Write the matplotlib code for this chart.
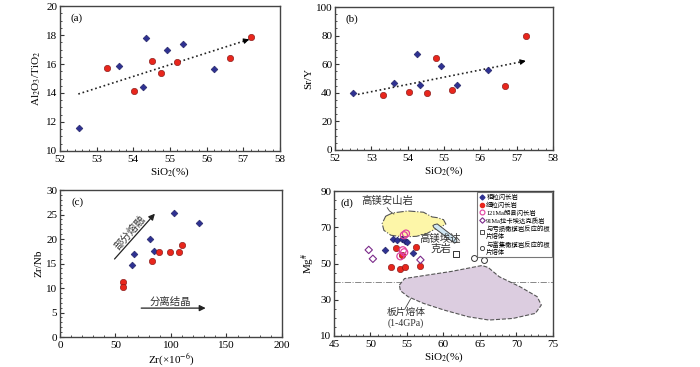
import matplotlib
matplotlib.use("Agg")
import matplotlib.pyplot as plt
from matplotlib.ticker import MultipleLocator, FixedLocator
from matplotlib.patches import Polygon
from matplotlib.lines import Line2D

plt.rcParams['font.family'] = ['Liberation Serif', 'Noto Sans CJK SC']
plt.rcParams['mathtext.fontset'] = 'stix'
plt.rcParams['font.size'] = 8

BLUE = '#2e3192'
RED = '#e8261c'
MAG = '#e040a0'
PUR = '#7b2a8a'

# (a) Al2O3/TiO2 vs SiO2
a_blue_x = [52.52, 53.62, 54.34, 54.27, 54.91, 55.35, 56.19]
a_blue_y = [11.61, 15.84, 17.79, 14.39, 16.97, 17.40, 15.66]
a_red_x = [53.29, 54.03, 54.50, 54.75, 55.18, 56.64, 57.21]
a_red_y = [15.70, 14.16, 16.23, 15.38, 16.16, 16.39, 17.89]
a_arrow = [(52.5, 13.93), (57.16, 17.70)]

# (b) Sr/Y vs SiO2
b_blue_x = [52.50, 53.63, 54.27, 54.35, 54.93, 55.37, 56.22]
b_blue_y = [40.0, 46.7, 67.1, 45.3, 58.6, 45.3, 56.1]
b_red_x = [53.31, 54.04, 54.52, 54.78, 55.21, 56.68, 57.26]
b_red_y = [38.4, 40.5, 40.0, 64.4, 41.8, 44.6, 80.0]
b_arrow = [(52.63, 38.9), (57.25, 62.3)]

# (c) Zr/Nb vs Zr
c_blue_x = [65.0, 67.1, 80.9, 84.8, 102.9, 125.7]
c_blue_y = [14.8, 17.0, 20.1, 17.5, 25.4, 23.2]
c_red_x = [56.8, 57.1, 83.3, 89.6, 98.9, 107.7, 109.8]
c_red_y = [11.2, 10.2, 15.5, 17.4, 17.3, 17.3, 18.8]

# (d) Mg# vs SiO2
d_blue_x = [53.1, 53.7, 54.3, 54.7, 55.0, 52.0, 55.8]
d_blue_y = [63.4, 63.0, 63.6, 62.5, 61.6, 57.5, 55.9]
d_red_x = [53.5, 56.2, 54.3, 52.8, 54.0, 54.7, 56.8]
d_red_y = [58.3, 59.2, 54.6, 47.8, 46.9, 47.8, 48.7]
d_mag_x = [54.86, 54.58, 54.43, 54.62, 54.10]
d_mag_y = [66.5, 65.6, 57.3, 56.2, 54.0]
d_pur_x = [49.76, 50.33, 56.84]
d_pur_y = [57.5, 52.6, 52.0]
d_sq_x = [61.75]
d_sq_y = [55.1]
d_oc_x = [64.2, 65.5]
d_oc_y = [53.3, 52.0]
d_yticks = [10, 30, 50, 70, 90]

hma_field = [(52.08, 76.1), (53.02, 77.9), (55.14, 79.0), (57.26, 78.3), (58.44, 75.7),
             (59.15, 75.3), (60.0, 74.2), (60.33, 71.7), (59.6, 70.2), (58.7, 68.7),
             (57.7, 66.5), (56.3, 65.0), (54.4, 64.7), (52.8, 65.6), (51.84, 68.3), (51.6, 72.0)]
adakite_field = [(58.77, 71.47), (59.15, 71.83), (61.79, 63.58), (61.84, 62.11),
                 (61.51, 61.19), (58.68, 69.82), (58.54, 70.92)]
slab_field = [(53.96, 38.1), (54.67, 41.7), (57.74, 43.6), (61.04, 45.6), (63.87, 47.8),
              (65.28, 48.9), (66.13, 47.8), (67.64, 42.7), (70.47, 37.2), (72.83, 31.7),
              (73.40, 27.1), (72.59, 22.5), (69.53, 19.7), (66.23, 18.8), (63.40, 20.6),
              (60.09, 24.3), (57.26, 28.0), (55.14, 31.7), (54.10, 35.0)]

fig = plt.figure(figsize=(7, 3.67), dpi=100)
ax_a = fig.add_axes([0.0857, 0.5886, 0.3143, 0.395])
ax_b = fig.add_axes([0.4786, 0.5913, 0.3114, 0.3896])
ax_c = fig.add_axes([0.0857, 0.0817, 0.317, 0.4005])
ax_d = fig.add_axes([0.4771, 0.0845, 0.3129, 0.395])


def style(ax):
    ax.tick_params(direction='in', which='both', top=False, right=False, labelsize=8,
                   color='#333333', pad=2)
    ax.tick_params(axis='x', which='both', pad=3)
    ax.tick_params(which='major', length=3)
    ax.tick_params(which='minor', length=1.5)
    for s in ax.spines.values():
        s.set_color('#444444')
        s.set_linewidth(1.0)


def blue_red(ax, bx, by, rx, ry):
    ax.scatter(bx, by, marker='D', s=12, color=BLUE, edgecolor='#1a1a5a', linewidth=0.4, zorder=3)
    ax.scatter(rx, ry, marker='o', s=21, color=RED, edgecolor='#7a1010', linewidth=0.4, zorder=3)


def dotted_arrow(ax, p0, p1):
    ax.plot([p0[0], p1[0]], [p0[1], p1[1]], ls=':', color='#222222', lw=1.2)
    ax.annotate('', xy=p1, xytext=(p0[0] + 0.97 * (p1[0] - p0[0]), p0[1] + 0.97 * (p1[1] - p0[1])),
                arrowprops=dict(arrowstyle='-|>', color='black', lw=0.8, mutation_scale=8))


# panel a
style(ax_a)
blue_red(ax_a, a_blue_x, a_blue_y, a_red_x, a_red_y)
dotted_arrow(ax_a, a_arrow[0], a_arrow[1])
ax_a.set_xlim(52, 58)
ax_a.set_ylim(10, 20)
ax_a.xaxis.set_major_locator(MultipleLocator(1))
ax_a.xaxis.set_minor_locator(MultipleLocator(0.2))
ax_a.yaxis.set_major_locator(MultipleLocator(2))
ax_a.yaxis.set_minor_locator(MultipleLocator(0.5))
ax_a.set_xlabel('SiO$_2$(%)', labelpad=1)
ax_a.set_ylabel('Al$_2$O$_3$/TiO$_2$', labelpad=2)
ax_a.text(0.05, 0.9, '(a)', transform=ax_a.transAxes, fontsize=8)

# panel b
style(ax_b)
blue_red(ax_b, b_blue_x, b_blue_y, b_red_x, b_red_y)
dotted_arrow(ax_b, b_arrow[0], b_arrow[1])
ax_b.set_xlim(52, 58)
ax_b.set_ylim(0, 100)
ax_b.xaxis.set_major_locator(MultipleLocator(1))
ax_b.xaxis.set_minor_locator(MultipleLocator(0.2))
ax_b.yaxis.set_major_locator(MultipleLocator(20))
ax_b.yaxis.set_minor_locator(MultipleLocator(5))
ax_b.set_xlabel('SiO$_2$(%)', labelpad=1)
ax_b.set_ylabel('Sr/Y', labelpad=2)
ax_b.text(0.05, 0.9, '(b)', transform=ax_b.transAxes, fontsize=8)

# panel c
style(ax_c)
blue_red(ax_c, c_blue_x, c_blue_y, c_red_x, c_red_y)
ax_c.annotate('', xy=(87.2, 25.6), xytext=(47.5, 15.5),
              arrowprops=dict(arrowstyle='-|>', color='#222222', lw=0.9, mutation_scale=9))
ax_c.annotate('', xy=(133.8, 5.9), xytext=(70.7, 5.9),
              arrowprops=dict(arrowstyle='-|>', color='#222222', lw=0.9, mutation_scale=9))
ax_c.text(63, 21.3, '部分熔融', rotation=49, ha='center', va='center', fontsize=7.5, color='#333333')
ax_c.text(99, 7.2, '分离结晶', ha='center', va='center', fontsize=7.5, color='#333333')
ax_c.set_xlim(0, 200)
ax_c.set_ylim(0, 30)
ax_c.xaxis.set_major_locator(MultipleLocator(50))
ax_c.xaxis.set_minor_locator(MultipleLocator(10))
ax_c.yaxis.set_major_locator(MultipleLocator(5))
ax_c.yaxis.set_minor_locator(MultipleLocator(1))
ax_c.set_xlabel('Zr(×10$^{-6}$)', labelpad=1)
ax_c.set_ylabel('Zr/Nb', labelpad=2)
ax_c.text(0.05, 0.9, '(c)', transform=ax_c.transAxes, fontsize=8)

# panel d
style(ax_d)
ax_d.add_patch(Polygon(hma_field, closed=True, facecolor='#fdf6a8', edgecolor='#555555',
                       ls='-.', lw=0.8, zorder=1))
ax_d.add_patch(Polygon(slab_field, closed=True, facecolor='#dccde0', edgecolor='#555555',
                       ls='--', lw=0.8, zorder=1))
ax_d.add_patch(Polygon(adakite_field, closed=True, facecolor='#cfe6f3', edgecolor='#444444',
                       lw=0.7, zorder=1))
ax_d.axhline(40, color='#888888', ls='-.', lw=0.7, zorder=0)
blue_red(ax_d, d_blue_x, d_blue_y, d_red_x, d_red_y)
ax_d.scatter(d_mag_x, d_mag_y, marker='o', s=26, facecolor='none', edgecolor=MAG, linewidth=0.9, zorder=4)
ax_d.scatter(d_pur_x, d_pur_y, marker='D', s=14, facecolor='none', edgecolor=PUR, linewidth=0.8, zorder=4)
ax_d.scatter(d_sq_x, d_sq_y, marker='s', s=18, facecolor='white', edgecolor='#333333', linewidth=0.7, zorder=4)
ax_d.scatter(d_oc_x, d_oc_y, marker='o', s=18, facecolor='white', edgecolor='#333333', linewidth=0.7, zorder=4)
ax_d.text(0.03, 0.9, '(d)', transform=ax_d.transAxes, fontsize=8)
ax_d.text(48.8, 84.5, '高镁安山岩', fontsize=7.5, color='#333333', va='center')
ax_d.plot([52.3, 52.6, 53.2], [80.8, 79.0, 77.3], color='#444444', lw=0.6)
ax_d.text(59.6, 61.0, '高镁埃达\n克岩', fontsize=7.5, color='#333333', ha='center', va='center',
          linespacing=1.0)
ax_d.text(54.9, 20.0, '板片熔体\n(1-4GPa)', fontsize=7, color='#333333', ha='center', va='center',
          linespacing=1.1)
ax_d.plot([54.7, 55.5], [24.8, 30.5], color='#444444', lw=0.6)
ax_d.set_xlim(45, 75)
ax_d.set_ylim(10, 90)
ax_d.xaxis.set_major_locator(MultipleLocator(5))
ax_d.xaxis.set_minor_locator(MultipleLocator(1))
ax_d.yaxis.set_major_locator(FixedLocator(d_yticks))
ax_d.yaxis.set_minor_locator(MultipleLocator(5))
ax_d.set_xlabel('SiO$_2$(%)', labelpad=1)
ax_d.set_ylabel('Mg$^{\\#}$', labelpad=2)

handles = [
    Line2D([], [], ls='', marker='D', ms=2.5, color=BLUE),
    Line2D([], [], ls='', marker='o', ms=3, color=RED),
    Line2D([], [], ls='', marker='o', ms=3.5, mfc='none', mec=MAG, mew=0.8),
    Line2D([], [], ls='', marker='D', ms=2.8, mfc='none', mec=PUR, mew=0.8),
    Line2D([], [], ls='', marker='s', ms=3, mfc='none', mec='#333333', mew=0.6),
    Line2D([], [], ls='', marker='o', ms=3, mfc='none', mec='#333333', mew=0.6),
]
labels = ['粗粒闪长岩', '细粒闪长岩', '121Ma朗县闪长岩', '91Ma拉卡埃达克质岩',
          '与亏损橄榄岩反应的板\n片熔体', '与富集橄榄岩反应的板\n片熔体']
leg = ax_d.legend(handles, labels, loc='upper right', bbox_to_anchor=(0.995, 0.995),
                  fontsize=4.6, frameon=True, fancybox=False, borderpad=0.3, labelspacing=0.25,
                  handletextpad=0.2, handlelength=1.0, borderaxespad=0)
leg.get_frame().set_edgecolor('#555555')
leg.get_frame().set_linewidth(0.8)

fig.savefig('out.png', dpi=100)
